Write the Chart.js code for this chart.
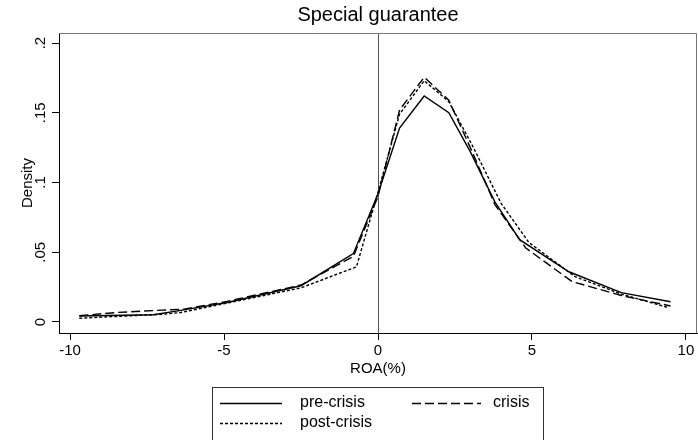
<!DOCTYPE html>
<html><head><meta charset="utf-8">
<script src="https://cdn.jsdelivr.net/npm/chart.js@4/dist/chart.umd.min.js"></script>
<style>html,body{margin:0;padding:0;background:#fff;overflow:hidden}#wrap{width:698px;height:440px}</style>
</head><body><div id="wrap"><canvas id="c" width="698" height="440"></canvas></div>
<script>
const chartTitle = 'Special guarantee';
const xTitle = 'ROA(%)';
const yTitle = 'Density';
const xTicks = [-10, -5, 0, 5, 10];
const xTickLabels = ['-10', '-5', '0', '5', '10'];
const yTicks = [0, 0.05, 0.1, 0.15, 0.2];
const yTickLabels = ['0', '.05', '.1', '.15', '.2'];
const seriesNames = ['pre-crisis', 'crisis', 'post-crisis'];

const preX = [-9.7, -7.3, -6.5, -4.9, -2.5, -0.8, 0.0, 0.7, 1.5, 2.3, 3.0, 3.8, 4.6, 6.2, 7.9, 9.5];
const preY = [0.0043, 0.0052, 0.0080, 0.0140, 0.0260, 0.0490, 0.0920, 0.1390, 0.1620, 0.1500, 0.1220, 0.0860, 0.0590, 0.0360, 0.0210, 0.0145];

const crisisX = [-9.7, -8.5, -7.0, -6.3, -4.9, -2.5, -0.8, 0.0, 0.7, 1.5, 2.3, 3.1, 3.8, 4.8, 6.3, 7.9, 9.5];
const crisisY = [0.0045, 0.0068, 0.0085, 0.0092, 0.0148, 0.0265, 0.0470, 0.0900, 0.1520, 0.1755, 0.1590, 0.1200, 0.0840, 0.0530, 0.0290, 0.0190, 0.0115];

const postX = [-9.7, -7.0, -6.4, -4.9, -2.5, -0.7, 0.0, 0.7, 1.5, 2.3, 3.1, 4.0, 4.9, 6.4, 7.9, 9.4];
const postY = [0.0027, 0.0055, 0.0068, 0.0135, 0.0245, 0.0395, 0.0930, 0.1490, 0.1730, 0.1580, 0.1250, 0.0850, 0.0570, 0.0325, 0.0200, 0.0105];

const FONT = "'Liberation Sans', Arial, Helvetica, sans-serif";
const dashes = [[], [9, 4], [3, 2]];

function pts(xs, ys) { return xs.map((x, i) => ({ x: x, y: ys[i] })); }

const overlay = {
  id: 'overlay',
  beforeDatasetsDraw(chart) {
    const { ctx, chartArea: a, scales: { x } } = chart;
    const px = Math.round(x.getPixelForValue(0)) + 0.5;
    ctx.save();
    ctx.strokeStyle = '#555';
    ctx.lineWidth = 1;
    ctx.beginPath(); ctx.moveTo(px, a.top); ctx.lineTo(px, a.bottom); ctx.stroke();
    ctx.restore();
  },
  afterDraw(chart) {
    const { ctx, chartArea: a, scales: { y } } = chart;
    ctx.save();
    // frame top/right
    ctx.strokeStyle = '#777';
    ctx.lineWidth = 1;
    ctx.beginPath();
    ctx.moveTo(a.left, a.top + 0.5); ctx.lineTo(a.right - 0.5, a.top + 0.5); ctx.lineTo(a.right - 0.5, a.bottom);
    ctx.stroke();
    // title
    ctx.fillStyle = '#000';
    ctx.font = '20px ' + FONT;
    ctx.textAlign = 'center'; ctx.textBaseline = 'middle';
    ctx.fillText(chartTitle, (a.left + a.right) / 2, 15);
    // y tick labels rotated
    ctx.font = '15px ' + FONT;
    yTicks.forEach((v, i) => {
      const py = y.getPixelForValue(v);
      ctx.save();
      ctx.translate(41, py);
      ctx.rotate(-Math.PI / 2);
      ctx.textAlign = 'center'; ctx.textBaseline = 'middle';
      ctx.fillText(yTickLabels[i], 0, 0);
      ctx.restore();
    });
    // legend
    const bx = 212.5, by = 387.5, bw = 331, bh = 60;
    ctx.strokeStyle = '#333';
    ctx.lineWidth = 1;
    ctx.strokeRect(bx, by, bw, bh);
    const items = [
      { name: seriesNames[0], dash: dashes[0], x0: 220, x1: 282, tx: 300, ty: 403 },
      { name: seriesNames[1], dash: dashes[1], x0: 412, x1: 481, tx: 493, ty: 403 },
      { name: seriesNames[2], dash: dashes[2], x0: 220, x1: 282, tx: 300, ty: 423 }
    ];
    ctx.font = '16px ' + FONT;
    ctx.textAlign = 'left'; ctx.textBaseline = 'middle';
    items.forEach(it => {
      ctx.strokeStyle = '#000';
      ctx.lineWidth = 1.4;
      ctx.setLineDash(it.dash);
      ctx.beginPath(); ctx.moveTo(it.x0, it.ty + 0.5); ctx.lineTo(it.x1, it.ty + 0.5); ctx.stroke();
      ctx.setLineDash([]);
      ctx.fillText(it.name, it.tx, it.ty);
    });
    ctx.restore();
  }
};

new Chart(document.getElementById('c'), {
  type: 'scatter',
  data: {
    datasets: [
      { label: seriesNames[0], data: pts(preX, preY), borderDash: dashes[0] },
      { label: seriesNames[1], data: pts(crisisX, crisisY), borderDash: dashes[1] },
      { label: seriesNames[2], data: pts(postX, postY), borderDash: dashes[2] }
    ].map(d => Object.assign(d, { showLine: true, pointRadius: 0, borderColor: '#000', backgroundColor: '#000', borderWidth: 1.4, tension: 0, fill: false }))
  },
  options: {
    responsive: false,
    animation: false,
    devicePixelRatio: 1,
    layout: { padding: { top: 33, right: 1, left: 0, bottom: 0 } },
    plugins: { legend: { display: false }, tooltip: { enabled: false }, title: { display: false } },
    scales: {
      x: {
        type: 'linear', min: -10.36, max: 10.36,
        afterBuildTicks: s => { s.ticks = xTicks.map(v => ({ value: v })); },
        afterFit: s => { s.height = 107; },
        ticks: { color: '#000', font: { family: FONT, size: 15 }, padding: 2, maxRotation: 0, minRotation: 0, autoSkip: false,
          callback: v => xTickLabels[xTicks.indexOf(v)] },
        grid: { drawOnChartArea: false, drawTicks: true, tickLength: 7, color: '#000', lineWidth: 1 },
        border: { display: true, color: '#000', width: 1 },
        title: { display: true, text: xTitle, color: '#000', font: { family: FONT, size: 15 }, padding: { top: 0, bottom: 62 } }
      },
      y: {
        type: 'linear', min: -0.0079, max: 0.2072,
        afterBuildTicks: s => { s.ticks = yTicks.map(v => ({ value: v })); },
        afterFit: s => { s.width = 59; },
        ticks: { display: false },
        grid: { drawOnChartArea: false, drawTicks: true, tickLength: 7, color: '#000', lineWidth: 1 },
        border: { display: true, color: '#000', width: 1 },
        title: { display: true, text: yTitle, color: '#000', font: { family: FONT, size: 15 }, padding: { top: 19, bottom: 0 } }
      }
    }
  },
  plugins: [overlay]
});
</script>
</body></html>
